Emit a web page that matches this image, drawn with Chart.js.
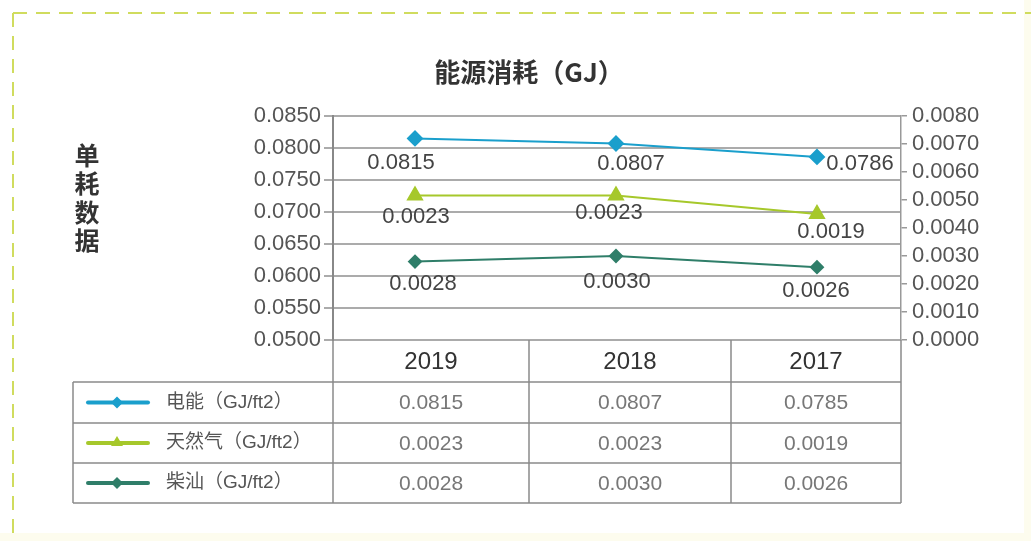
<!DOCTYPE html>
<html>
<head>
<meta charset="utf-8">
<script src="https://cdn.jsdelivr.net/npm/chart.js@4.4.1/dist/chart.umd.min.js"></script>
<style>
  html, body { margin: 0; padding: 0; background: #ffffff; }
  canvas { display: block; }
</style>
</head>
<body>
<canvas id="c" width="1031" height="541"></canvas>
<script>
// ---- data ----
const categories = ['2019', '2018', '2017'];
const seriesNames = ['电能（GJ/ft2）', '天然气（GJ/ft2）', '柴汕（GJ/ft2）'];
const electricity = [0.0815, 0.0807, 0.0786];
const naturalGas = [0.0023, 0.0023, 0.0019];
const diesel = [0.0028, 0.0030, 0.0026];
const tableElectricity = [0.0815, 0.0807, 0.0785];
const tableNaturalGas = [0.0023, 0.0023, 0.0019];
const tableDiesel = [0.0028, 0.0030, 0.0026];
const leftTicks = ['0.0500', '0.0550', '0.0600', '0.0650', '0.0700', '0.0750', '0.0800', '0.0850'];
const rightTicks = ['0.0000', '0.0010', '0.0020', '0.0030', '0.0040', '0.0050', '0.0060', '0.0070', '0.0080'];
const titleText = '能源消耗（GJ）';
const sideLabel = '单耗数据';

const NUM_FONT = "'Liberation Sans', Arial, 'Noto Sans CJK SC', sans-serif";
const CJK_FONT = "'Noto Sans CJK SC', 'Liberation Sans', sans-serif";
const COLORS = ['#1a9fcc', '#a6c82b', '#2f7e69'];

const toXY = arr => arr.map((v, i) => ({ x: i, y: v }));

const decorPlugin = {
  id: 'decor',
  beforeDraw(chart) {
    const ctx = chart.ctx;
    ctx.save();
    ctx.fillStyle = '#ffffff';
    ctx.fillRect(0, 0, chart.width, chart.height);
    ctx.fillStyle = '#fdfcee';
    ctx.fillRect(0, 533, chart.width, 8);
    ctx.fillRect(1024, 0, 7, chart.height);
    // dashed frame
    ctx.strokeStyle = '#d0dc5e';
    ctx.lineWidth = 2;
    ctx.setLineDash([14, 9]);
    ctx.beginPath();
    ctx.moveTo(13, 13); ctx.lineTo(1031, 13);
    ctx.moveTo(13, 13); ctx.lineTo(13, 541);
    ctx.stroke();
    ctx.restore();
  },
  afterDraw(chart) {
    const ctx = chart.ctx;
    const area = chart.chartArea;
    ctx.save();
    // title
    ctx.fillStyle = '#333333';
    ctx.textAlign = 'center';
    ctx.textBaseline = 'middle';
    ctx.font = "bold 26px " + CJK_FONT;
    ctx.fillText(titleText, 529, 72);
    // side label (vertical)
    ctx.font = "bold 25px " + CJK_FONT;
    [...sideLabel].forEach((ch, i) => ctx.fillText(ch, 87, 155 + i * 28.5));

    // data labels
    ctx.font = "22px " + NUM_FONT;
    ctx.fillStyle = '#444444';
    chart.data.datasets.forEach((ds, di) => {
      const meta = chart.getDatasetMeta(di);
      meta.data.forEach((el, i) => {
        const off = ds.labelOffsets[i];
        ctx.fillText(ds.data[i].y.toFixed(4), el.x + off[0], el.y + off[1]);
      });
    });

    // table
    const colEdges = [area.left, 529, 731, area.right];
    const tableLeft = 73;
    const headerTop = area.bottom;
    const rowEdges = [382, 423, 463, 503];
    ctx.strokeStyle = '#8a8a8a';
    ctx.lineWidth = 1.5;
    ctx.setLineDash([]);
    ctx.beginPath();
    colEdges.forEach(x => { ctx.moveTo(x, headerTop); ctx.lineTo(x, rowEdges[3]); });
    ctx.moveTo(tableLeft, rowEdges[0]); ctx.lineTo(tableLeft, rowEdges[3]);
    rowEdges.forEach(y => { ctx.moveTo(tableLeft, y); ctx.lineTo(area.right, y); });
    ctx.stroke();

    // header years
    ctx.fillStyle = '#333333';
    ctx.font = "24px " + NUM_FONT;
    categories.forEach((c, i) => {
      ctx.fillText(c, (colEdges[i] + colEdges[i + 1]) / 2, (headerTop + rowEdges[0]) / 2 + 1);
    });
    // values
    const tableRows = [tableElectricity, tableNaturalGas, tableDiesel];
    ctx.fillStyle = '#777777';
    ctx.font = "21px " + NUM_FONT;
    tableRows.forEach((row, r) => {
      const cy = (rowEdges[r] + rowEdges[r + 1]) / 2 + 1;
      row.forEach((v, i) => {
        ctx.fillText(v.toFixed(4), (colEdges[i] + colEdges[i + 1]) / 2, cy);
      });
    });
    // legend cells
    chart.data.datasets.forEach((ds, r) => {
      const cy = (rowEdges[r] + rowEdges[r + 1]) / 2;
      ctx.strokeStyle = ds.borderColor;
      ctx.lineWidth = 4;
      ctx.lineCap = 'round';
      ctx.beginPath();
      ctx.moveTo(88, cy); ctx.lineTo(148, cy);
      ctx.stroke();
      ctx.fillStyle = ds.borderColor;
      ctx.beginPath();
      if (ds.pointStyle === 'triangle') {
        ctx.moveTo(117, cy - 7); ctx.lineTo(123, cy + 3); ctx.lineTo(111, cy + 3);
      } else {
        ctx.moveTo(117, cy - 6); ctx.lineTo(123, cy); ctx.lineTo(117, cy + 6); ctx.lineTo(111, cy);
      }
      ctx.closePath();
      ctx.fill();
      ctx.fillStyle = '#555555';
      ctx.textAlign = 'left';
      ctx.font = "19px " + NUM_FONT;
      ctx.fillText(seriesNames[r], 166, cy);
      ctx.textAlign = 'center';
    });
    ctx.restore();
  }
};

new Chart(document.getElementById('c'), {
  type: 'line',
  data: {
    datasets: [
      {
        label: seriesNames[0],
        data: toXY(electricity),
        yAxisID: 'yLeft',
        borderColor: COLORS[0],
        backgroundColor: COLORS[0],
        borderWidth: 2,
        pointStyle: 'rectRot',
        pointRadius: 7,
        labelOffsets: [[-14, 25], [15, 20], [43, 7]]
      },
      {
        label: seriesNames[1],
        data: toXY(naturalGas),
        yAxisID: 'yGas',
        borderColor: COLORS[1],
        backgroundColor: COLORS[1],
        borderWidth: 2,
        pointStyle: 'triangle',
        pointRadius: 8,
        labelOffsets: [[1, 21], [-7, 17], [14, 18]]
      },
      {
        label: seriesNames[2],
        data: toXY(diesel),
        yAxisID: 'yRight',
        borderColor: COLORS[2],
        backgroundColor: COLORS[2],
        borderWidth: 2,
        pointStyle: 'rectRot',
        pointRadius: 6,
        labelOffsets: [[8, 22], [1, 26], [-1, 24]]
      }
    ]
  },
  options: {
    responsive: false,
    animation: false,
    events: [],
    layout: { padding: { top: 116, bottom: 201, left: 0, right: 0 } },
    plugins: { legend: { display: false }, title: { display: false }, tooltip: { enabled: false } },
    elements: { line: { tension: 0 } },
    scales: {
      x: { type: 'linear', display: false, min: -0.408, max: 2.418 },
      yLeft: {
        position: 'left',
        min: 0.05, max: 0.085,
        afterFit(s) { s.width = 333; },
        afterBuildTicks(s) { s.ticks = leftTicks.map(t => ({ value: parseFloat(t) })); },
        ticks: {
          autoSkip: false,
          callback: (v, i) => leftTicks[i],
          font: { size: 22, family: NUM_FONT },
          color: '#555555',
          padding: 3
        },
        grid: { color: '#ababab', lineWidth: 2, tickLength: 9 },
        border: { display: true, color: '#888888', width: 2 }
      },
      yRight: {
        position: 'right',
        min: 0, max: 0.008,
        afterFit(s) { s.width = 130; },
        afterBuildTicks(s) { s.ticks = rightTicks.map(t => ({ value: parseFloat(t) })); },
        ticks: {
          autoSkip: false,
          callback: (v, i) => rightTicks[i],
          font: { size: 22, family: NUM_FONT },
          color: '#555555',
          padding: 5
        },
        grid: { drawOnChartArea: false, color: '#999999', lineWidth: 1.5, tickLength: 6 },
        border: { display: true, color: '#999999', width: 1.5 }
      },
      yGas: { display: false, min: -0.000824, max: 0.004019 }
    }
  },
  plugins: [decorPlugin]
});
</script>
</body>
</html>
